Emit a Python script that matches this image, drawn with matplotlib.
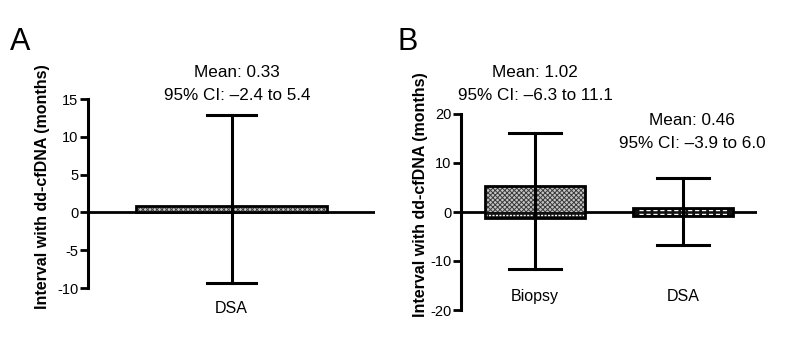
import numpy as np
import matplotlib
matplotlib.use('Agg')
import matplotlib.pyplot as plt

plt.rcParams['font.family'] = ['Liberation Sans', 'DejaVu Sans']
plt.rcParams['axes.unicode_minus'] = False
plt.rcParams['hatch.linewidth'] = 0.7

# panel A
cats_a = ['DSA']
box_lo_a = [0.0]
box_hi_a = [0.8]
whisk_lo_a = [-9.3]
whisk_hi_a = [12.9]
notes_a = ['Mean: 0.33\n95% CI: \u20132.4 to 5.4']

# panel B
cats_b = ['Biopsy', 'DSA']
box_lo_b = [-1.3, -0.8]
box_hi_b = [5.3, 0.8]
whisk_lo_b = [-11.6, -6.7]
whisk_hi_b = [16.1, 7.0]
notes_b = ['Mean: 1.02\n95% CI: \u20136.3 to 11.1', 'Mean: 0.46\n95% CI: \u20133.9 to 6.0']

W, H = 797, 346


def px_ax(fig, x0, x1, ytop, ybot):
    return fig.add_axes([x0 / W, 1 - ybot / H, (x1 - x0) / W, (ybot - ytop) / H])


def draw_panel(ax, cats, lo, hi, wlo, whi, box_w, cap_w, styles):
    pos = np.arange(len(cats)) + 0.5
    ax.axhline(0, color='k', lw=2, zorder=1)
    for i, p in enumerate(pos):
        # whisker + caps
        ax.plot([p - cap_w / 2, p + cap_w / 2], [whi[i], whi[i]], color='k', lw=2.2, zorder=2)
        ax.plot([p - cap_w / 2, p + cap_w / 2], [wlo[i], wlo[i]], color='k', lw=2.2, zorder=2)
        st = styles[i]
        if st == 'grey':
            ax.bar(p, hi[i] - lo[i], bottom=lo[i], width=box_w, color='#c4c4c4',
                   hatch='xxxxxxx', edgecolor='#3a3a3a', lw=0, zorder=3)
        elif st == 'split':
            ax.bar(p, hi[i], bottom=0, width=box_w, color='#c4c4c4',
                   hatch='xxxxxxx', edgecolor='#3a3a3a', lw=0, zorder=3)
            ax.bar(p, -lo[i], bottom=lo[i], width=box_w, color='#111111', lw=0, zorder=3)
            ax.plot([p - box_w / 2, p + box_w / 2], [lo[i] / 2, lo[i] / 2], color='w',
                    lw=1, ls=(0, (1.5, 1)), zorder=4)
        else:
            ax.bar(p, hi[i] - lo[i], bottom=lo[i], width=box_w, color='#111111', lw=0, zorder=3)
            for yy in (lo[i] / 2, hi[i] / 2):
                ax.plot([p - box_w / 2 + 0.04, p + box_w / 2 - 0.04], [yy, yy], color='w',
                        lw=1, ls=(0, (3, 2)), zorder=4)
        ax.bar(p, hi[i] - lo[i], bottom=lo[i], width=box_w, fill=False,
               edgecolor='k', lw=2, zorder=5)
        ax.plot([p, p], [wlo[i], whi[i]], color='k', lw=2.2, zorder=6)
    ax.set_xlim(0, len(cats))
    for s in ['top', 'right', 'bottom']:
        ax.spines[s].set_visible(False)
    ax.spines['left'].set_linewidth(2.2)
    ax.set_xticks([])
    ax.tick_params(axis='y', direction='out', length=6, width=2, labelsize=10.5, pad=1)
    return pos


fig = plt.figure(figsize=(W / 100, H / 100), dpi=100)

# A
ax1 = px_ax(fig, 88, 375, 99, 288)
pos_a = draw_panel(ax1, cats_a, box_lo_a, box_hi_a, whisk_lo_a, whisk_hi_a, 0.665, 0.17, ['grey'])
ax1.set_ylim(-10, 15)
ax1.set_yticks([-10, -5, 0, 5, 10, 15])
for p, c in zip(pos_a, cats_a):
    ax1.text(p, -0.106, c, transform=ax1.get_xaxis_transform(), ha='center', va='center', fontsize=11.5)

# B
ax2 = px_ax(fig, 461, 757, 114, 310)
pos_b = draw_panel(ax2, cats_b, box_lo_b, box_hi_b, whisk_lo_b, whisk_hi_b, 0.67, 0.345, ['split', 'dark'])
ax2.set_ylim(-20, 20)
ax2.set_yticks([-20, -10, 0, 10, 20])
for p, c in zip(pos_b, cats_b):
    ax2.text(p, 0.071, c, transform=ax2.get_xaxis_transform(), ha='center', va='center', fontsize=11.5)

# annotations (figure pixel positions)
note_xy = [(237, 84), (535, 84), (692, 132)]
for (x, y), t in zip(note_xy, notes_a + notes_b):
    fig.text(x / W, 1 - y / H, t, ha='center', va='center', fontsize=12.3, linespacing=1.7)

ylab = 'Interval with dd-cfDNA (months)'
fig.text(43 / W, 1 - 187 / H, ylab, rotation=90, ha='center', va='center', fontsize=11.5, fontweight='bold')
fig.text(420 / W, 1 - 195 / H, ylab, rotation=90, ha='center', va='center', fontsize=11.5, fontweight='bold')

fig.text(10 / W, 1 - 50 / H, 'A', fontsize=22, va='baseline')
fig.text(398 / W, 1 - 50 / H, 'B', fontsize=22, va='baseline')

fig.savefig('out.png', dpi=100)
